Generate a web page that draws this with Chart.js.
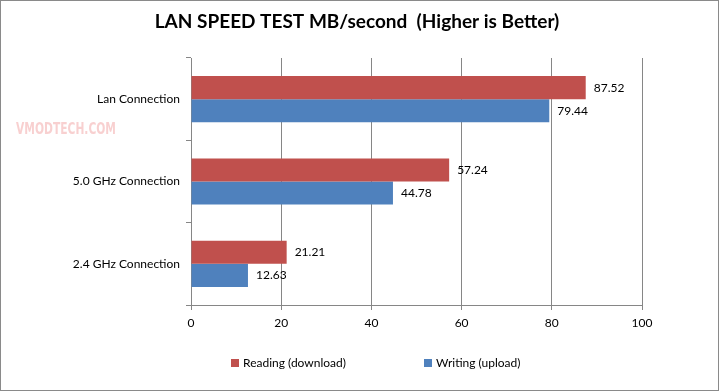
<!DOCTYPE html>
<html><head><meta charset="utf-8">
<script src="https://cdn.jsdelivr.net/npm/chart.js@4"></script>
<style>
html,body{margin:0;padding:0;background:#fff;}
#wrap{width:719px;height:391px;box-sizing:border-box;border:1px solid #8a8a8a;position:relative;}
</style></head>
<body><div id="wrap"><canvas id="c" width="717" height="389"></canvas></div>
<script>
const categories = ["Lan Connection", "5.0 GHz Connection", "2.4 GHz Connection"];
const readingValues = [87.52, 57.24, 21.21];
const writingValues = [79.44, 44.78, 12.63];
const seriesNames = ["Reading (download)", "Writing (upload)"];
const seriesColors = ["#C0504D", "#4F81BD"];
const xTicks = [0, 20, 40, 60, 80, 100];
const titleText = "LAN SPEED TEST MB/second  (Higher is Better)";

const FONT = "Lato, 'Open Sans', sans-serif";
const GRID = "#868686";

const valueLabels = {
  id: "valueLabels",
  afterDatasetsDraw(chart) {
    const ctx = chart.ctx;
    ctx.save();
    ctx.font = "12px " + FONT;
    ctx.fillStyle = "#000";
    ctx.textBaseline = "middle";
    ctx.textAlign = "left";
    chart.data.datasets.forEach((ds, i) => {
      chart.getDatasetMeta(i).data.forEach((bar, j) => {
        ctx.fillText(ds.data[j].toFixed(2), bar.x + 8, bar.y);
      });
    });
    ctx.restore();
  }
};
const titleAndLegend = {
  id: "titleAndLegend",
  afterDraw(chart) {
    const ctx = chart.ctx;
    ctx.save();
    ctx.fillStyle = "#000";
    ctx.font = "bold 19px " + FONT;
    ctx.textAlign = "center";
    ctx.textBaseline = "middle";
    ctx.fillText(titleText, 356, 21);
    // legend
    ctx.font = "12px " + FONT;
    ctx.textAlign = "left";
    const starts = [230, 423];
    chart.data.datasets.forEach((ds, i) => {
      ctx.fillStyle = ds.backgroundColor;
      ctx.fillRect(starts[i], 358, 8, 8);
      ctx.fillStyle = "#000";
      ctx.fillText(ds.label, starts[i] + 12, 362);
    });
    ctx.restore();
  }
};
const watermark = {
  id: "watermark",
  beforeDraw(chart) {
    const ctx = chart.ctx;
    ctx.save();
    ctx.font = "bold 14px 'DejaVu Sans Condensed', sans-serif";
    ctx.fillStyle = "rgba(240,150,150,0.45)";
    ctx.textAlign = "center";
    ctx.textBaseline = "middle";
    ctx.save();
    ctx.translate(65, 129);
    ctx.scale(0.85, 1.1);
    ctx.fillText("VMODTECH.COM", 0, 0);
    ctx.restore();
    ctx.restore();
  }
};

new Chart(document.getElementById("c"), {
  type: "bar",
  data: {
    labels: categories,
    datasets: [
      { label: seriesNames[0], data: readingValues, backgroundColor: seriesColors[0], borderWidth: 0 },
      { label: seriesNames[1], data: writingValues, backgroundColor: seriesColors[1], borderWidth: 0 }
    ]
  },
  options: {
    indexAxis: "y",
    responsive: false,
    animation: false,
    devicePixelRatio: 1,
    layout: { padding: { left: 0, right: 76, top: 57, bottom: 55 } },
    datasets: { bar: { categoryPercentage: 0.56, barPercentage: 1.0 } },
    scales: {
      x: {
        min: 0, max: 100,
        afterBuildTicks(scale) { scale.ticks = xTicks.map(v => ({ value: v })); },
        afterFit(scale) { scale.height = 30; },
        grid: { color: GRID, lineWidth: 1, tickLength: 5, drawTicks: true },
        border: { color: GRID, width: 1 },
        ticks: { color: "#000", font: { size: 12, family: FONT }, padding: 6 }
      },
      y: {
        afterFit(scale) { scale.width = 190; },
        grid: { offset: true, drawOnChartArea: false, drawTicks: true, tickLength: 5, color: GRID },
        border: { color: GRID, width: 1 },
        ticks: { color: "#000", font: { size: 12, family: FONT }, padding: 6 }
      }
    },
    plugins: {
      title: { display: false },
      legend: { display: false },
      tooltip: { enabled: false }
    }
  },
  plugins: [valueLabels, titleAndLegend, watermark]
});
</script></body></html>
